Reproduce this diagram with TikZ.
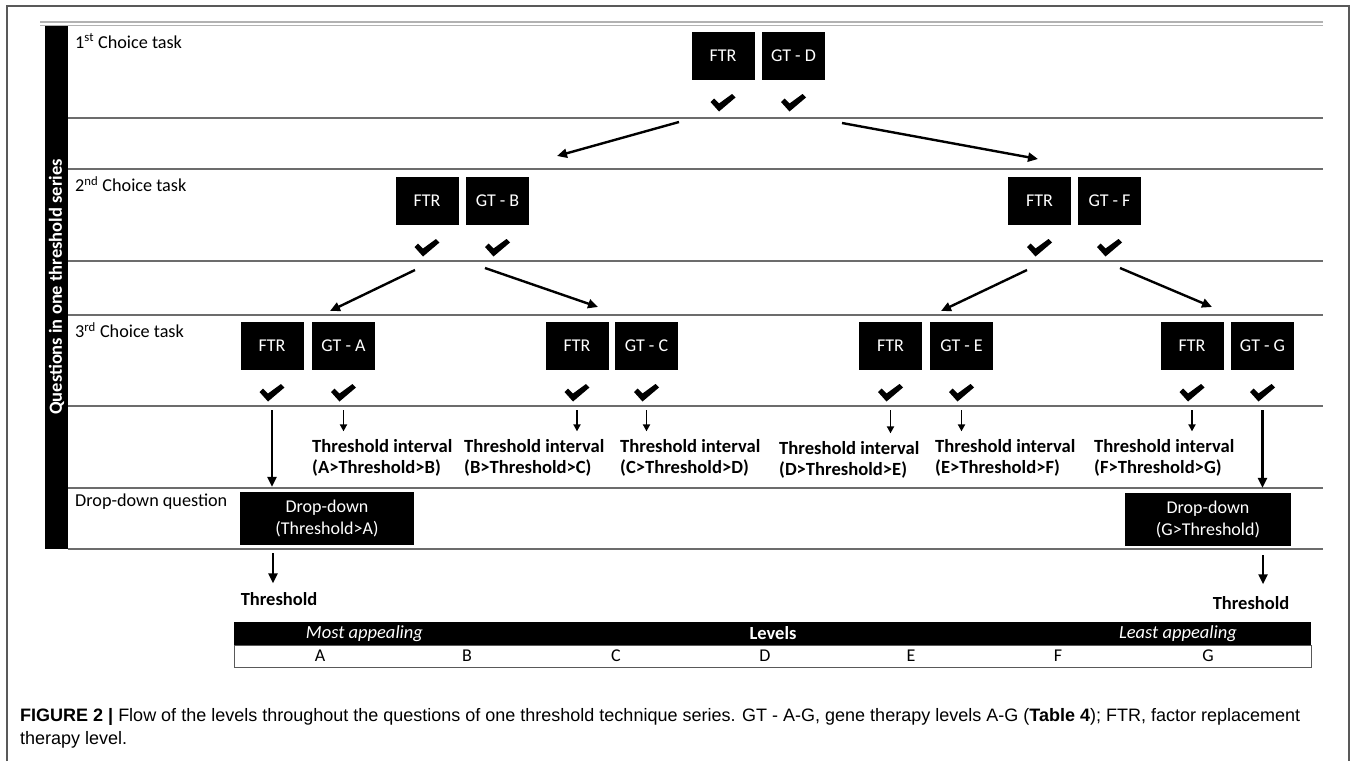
\documentclass[tikz,border=0pt]{standalone}
\usepackage{fontspec}
\setmainfont{Carlito}
\newfontfamily\capfont{Liberation Sans}
\usetikzlibrary{arrows.meta,calc}
\begin{document}
\begin{tikzpicture}[x=1pt,y=-1pt,
  blk/.style={fill=black,text=white,minimum width=63pt,minimum height=48pt,inner sep=0pt,font=\fontsize{18}{21}\selectfont},
  ck/.style={inner sep=0pt,minimum width=26pt,minimum height=19pt,
    path picture={\fill[black,shift={(path picture bounding box.center)}]
      (-12.5pt,1pt) -- (-9pt,4.5pt) -- (-4pt,-0.5pt) -- (9pt,9pt) -- (12.5pt,5.5pt) -- (-4pt,-8.5pt) -- cycle;}},
  arr/.style={line width=2.4pt,-{Triangle[length=10pt,width=9pt]}},
  sarr/.style={line width=1.8pt,-{Triangle[length=7pt,width=7pt]}},
  rowline/.style={draw=gray!85!black,line width=1.3pt},
  lbl/.style={anchor=west,font=\fontsize{18.2}{21}\selectfont,inner sep=0pt},
  intv/.style={anchor=west,font=\bfseries\fontsize{18.6}{21}\selectfont,align=left,inner sep=0pt},
  dd/.style={fill=black,text=white,align=center,minimum height=53pt,inner sep=0pt,font=\fontsize{18}{22}\selectfont},
  thr/.style={font=\bfseries\fontsize{18.5}{21}\selectfont,inner sep=0pt},
  lvl/.style={font=\fontsize{18}{21}\selectfont,inner sep=0pt}]
\useasboundingbox (0,0) rectangle (1357,761);
% outer frame
\draw[gray!70!black,line width=1.3pt] (7,761) -- (7,6) -- (1349,6) -- (1349,761);
% top double line
\draw[gray!60,line width=1.3pt] (40,22) -- (1323,22);
\draw[gray!60,line width=1.3pt] (40,25.5) -- (1323,25.5);
% left bar
\fill[black] (45,26) rectangle (68,549);
\node[rotate=90,text=white,font=\bfseries\fontsize{18.5}{21}\selectfont,inner sep=0pt] (side) at (56.5,287) {Questions in one threshold series};
% row lines
\foreach \yy in {118,169,261,315,406,488,549}
  \draw[rowline] (68,\yy) -- (1323,\yy);
% row labels
\node[lbl] (l1) at (75,41) {1\textsuperscript{st} Choice task};
\node[lbl] (l2) at (75,184) {2\textsuperscript{nd} Choice task};
\node[lbl] (l3) at (75,330) {3\textsuperscript{rd} Choice task};
\node[lbl] (l4) at (75,502) {Drop-down question};
% level 1
\node[blk] (f1) at (723,56) {FTR};
\node[blk] (g1) at (793.5,56) {GT - D};
\node[ck] (cf1) at (723,103) {};
\node[ck] (cg1) at (793.5,103) {};
% level 2
\node[blk] (f2a) at (427,201) {FTR};
\node[blk] (g2a) at (497.5,201) {GT - B};
\node[blk] (f2b) at (1039.5,201) {FTR};
\node[blk] (g2b) at (1109.5,201) {GT - F};
\node[ck] (cf2a) at (427,248) {};
\node[ck] (cg2a) at (497.5,248) {};
\node[ck] (cf2b) at (1039.5,248) {};
\node[ck] (cg2b) at (1109.5,248) {};
% level 3
\node[blk] (f3a) at (272,346) {FTR};
\node[blk] (g3a) at (343.5,346) {GT - A};
\node[blk] (f3c) at (577,346) {FTR};
\node[blk] (g3c) at (646.5,346) {GT - C};
\node[blk] (f3e) at (890.5,346) {FTR};
\node[blk] (g3e) at (961.5,346) {GT - E};
\node[blk] (f3g) at (1192,346) {FTR};
\node[blk] (g3g) at (1262.5,346) {GT - G};
\foreach \n/\x in {cf3a/272,cg3a/343.5,cf3c/577,cg3c/646.5,cf3e/890.5,cg3e/961.5,cf3g/1192,cg3g/1262.5}
  \node[ck] (\n) at (\x,393) {};
% diagonal arrows
\coordinate (s1) at (679,122); \coordinate (e1) at (557,156);
\coordinate (s2) at (842,123); \coordinate (e2) at (1038,159);
\coordinate (s3) at (415,270); \coordinate (e3) at (330,311);
\coordinate (s4) at (485,268); \coordinate (e4) at (598,307);
\coordinate (s5) at (1027,270); \coordinate (e5) at (941,311);
\coordinate (s6) at (1120,268); \coordinate (e6) at (1212,307);
\foreach \i in {1,...,6} \draw[arr] (s\i) -- (e\i);
% threshold intervals
\node[intv] (iA) at (312,458) {Threshold interval\\(A>Threshold>B)};
\node[intv] (iB) at (464,458) {Threshold interval\\(B>Threshold>C)};
\node[intv] (iC) at (620,458) {Threshold interval\\(C>Threshold>D)};
\node[intv] (iD) at (779,460) {Threshold interval\\(D>Threshold>E)};
\node[intv] (iE) at (935,458) {Threshold interval\\(E>Threshold>F)};
\node[intv] (iF) at (1094,458) {Threshold interval\\(F>Threshold>G)};
% small arrows
\foreach \c/\t in {cg3a/iA,cf3c/iB,cg3c/iC,cf3e/iD,cg3e/iE,cf3g/iF}
  \draw[sarr] ($(\c.center)+(0,17)$) -- ($(\c.center |- \t.north)+(0,-8)$);
% drop-down boxes
\node[dd,minimum width=174pt] (ddA) at (327,518.5) {Drop-down\\(Threshold>A)};
\node[dd,minimum width=166pt] (ddG) at (1208,519.5) {Drop-down\\(G>Threshold)};
\draw[arr] ($(cf3a.center)+(0,17)$) -- ($(cf3a.center |- ddA.north)+(0,-5)$);
\draw[arr] ($(cg3g.center)+(0,17)$) -- ($(cg3g.center |- ddG.north)+(0,-5)$);
% thresholds
\node[thr] (tA) at (279,599) {Threshold};
\node[thr] (tG) at (1251,603) {Threshold};
\coordinate (dA) at ($(ddA.south)+(-54,8)$);
\coordinate (dG) at ($(ddG.south)+(55,9)$);
\draw[arr] (dA) -- ($(dA |- tA.north)+(0,-9)$);
\draw[arr] (dG) -- ($(dG |- tG.north)+(0,-12)$);
% levels bar
\fill[black] (234,622) rectangle (1311,645);
\draw[gray!70!black,line width=1pt] (234,645) rectangle (1311,667);
\node[font=\itshape\fontsize{18.5}{21}\selectfont,text=white,inner sep=0pt] (most) at (364.5,633.5) {Most appealing};
\node[font=\bfseries\fontsize{18.5}{21}\selectfont,text=white,inner sep=0pt] (lev) at (773,633.5) {Levels};
\node[font=\itshape\fontsize{18.5}{21}\selectfont,text=white,inner sep=0pt] (least) at (1178,633.5) {Least appealing};
\foreach \n/\x in {A/320,B/467,C/616,D/765,E/911,F/1058,G/1208}
  \node[lvl] (lv\n) at (\x,656) {\n};
% caption
\node[anchor=base west,inner sep=0pt,font=\capfont\fontsize{18}{23}\selectfont] (cap1) at (20,721) {\textbf{FIGURE 2 |} Flow of the levels throughout the questions of one threshold technique series. GT - A-G, gene therapy levels A-G (\textbf{Table 4}); FTR, factor replacement};
\node[anchor=base west,inner sep=0pt,font=\capfont\fontsize{18}{23}\selectfont] (cap2) at (20,744) {therapy level.};
\end{tikzpicture}
\end{document}
